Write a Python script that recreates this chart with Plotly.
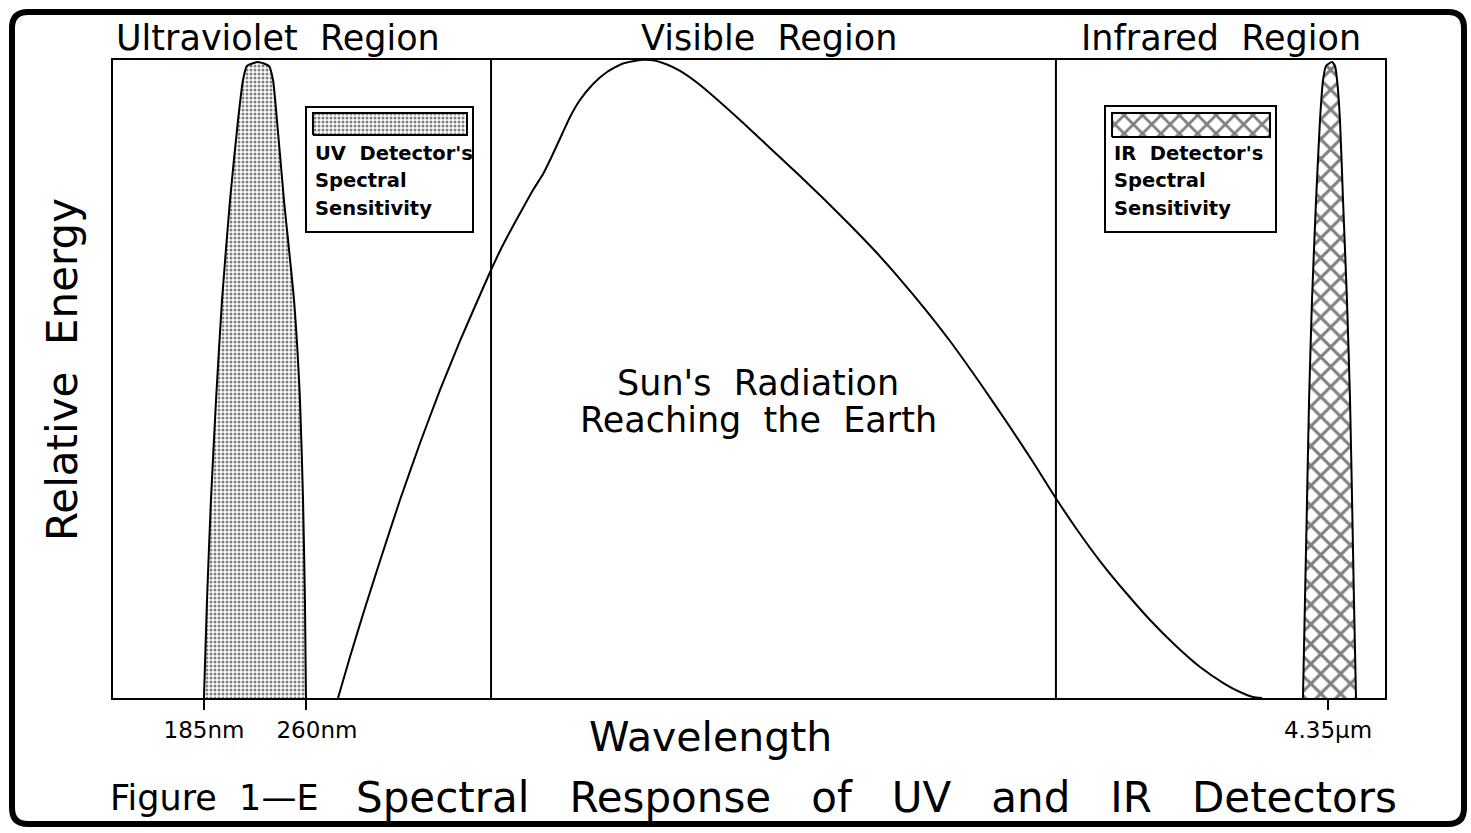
import plotly.graph_objects as go

# ---------------- data (x: relative wavelength position 0-100, y: relative energy 0-1) ----------------
sun_x = [17.69, 18.63, 19.81, 20.99, 22.56, 24.14, 25.71, 27.28, 28.85, 29.72, 30.42, 31.45, 32.23,
         33.02, 33.81, 34.36, 34.91, 35.38, 35.93, 36.71, 37.74, 38.84, 40.09, 41.43, 42.45, 43.55,
         44.58, 46.15, 49.29, 51.65, 54.01, 55.97, 57.94, 59.91, 61.87, 63.84, 65.80,
         68.16, 70.52, 72.33, 74.06, 75.86, 77.59, 79.72, 81.53, 83.49, 85.46, 87.42, 88.60, 89.62,
         90.33]
sun_y = [0.0, 0.0643, 0.1411, 0.2147, 0.3103, 0.3997, 0.4828, 0.5596, 0.6317, 0.6708, 0.7006, 0.7398,
         0.7680, 0.7962, 0.8213, 0.8433, 0.8668, 0.8871, 0.9107, 0.9373, 0.9624, 0.9812, 0.9945, 1.0,
         0.9995, 0.9929, 0.9828, 0.9608, 0.9060, 0.8621, 0.8182, 0.7806, 0.7414,
         0.7006, 0.6567, 0.6097, 0.5596, 0.4937, 0.4248, 0.3699, 0.3150, 0.2618, 0.2147, 0.1630,
         0.1223, 0.0831, 0.0486, 0.0219, 0.0094, 0.0016, 0.0]

band_y = [0.0, 0.1536, 0.3103, 0.4671, 0.6238, 0.7806, 0.906, 0.9687, 0.9906]
uv_left = [7.15, 7.39, 7.70, 8.10, 8.57, 9.20, 9.83, 10.22, 10.53]
uv_right = [15.17, 15.09, 14.94, 14.70, 14.23, 13.44, 12.89, 12.58, 12.26]
uv_peak = [11.40, 0.997]
ir_left = [93.55, 93.71, 93.87, 94.03, 94.26, 94.58, 94.89, 95.13, 95.36]
ir_right = [97.72, 97.56, 97.41, 97.25, 97.01, 96.70, 96.46, 96.23, 96.07]
ir_peak = [95.83, 0.997]

region_bounds = [29.72, 74.13]
region_names = ["Ultraviolet\u00a0 Region", "Visible\u00a0 Region", "Infrared\u00a0 Region"]
region_centers = [12.97, 51.57, 87.11]

tick_vals = [7.15, 15.17, 95.52]
tick_text = ["185nm", "\u00a0\u00a0\u00a0260nm", "4.35µm"]

uv_legend_lines = ["UV\u00a0 Detector's", "Spectral", "Sensitivity"]
ir_legend_lines = ["IR\u00a0 Detector's", "Spectral", "Sensitivity"]

# ---------------- layout geometry (pixels) ----------------
W, H = 1471, 833
PL, PR, PT, PB = 113, 1385, 60, 698
FONT = "DejaVu Sans"
SP = "\u00a0\u00a0 "


def px_x(p):
    return (p - PL) / (PR - PL)


def px_y(p):
    return (PB - p) / (PB - PT)


def band_polygon(left, right, peak):
    xs = list(left) + [peak[0]] + list(reversed(right))
    ys = list(band_y) + [peak[1]] + list(reversed(band_y))
    return xs, ys


UV_PAT = dict(shape=".", size=4, solidity=0.45, fgcolor="black", bgcolor="white")
IR_PAT = dict(shape="x", size=14, solidity=0.38, fgcolor="black", bgcolor="white")

fig = go.Figure()

# Sun's radiation curve
fig.add_trace(go.Scatter(x=sun_x, y=sun_y, mode="lines",
                         line=dict(color="black", width=2, shape="spline", smoothing=0.5),
                         hoverinfo="skip", showlegend=False))

# UV detector band (dotted fill)
ux, uy = band_polygon(uv_left, uv_right, uv_peak)
fig.add_trace(go.Scatter(x=ux, y=uy, mode="lines", fill="toself",
                         line=dict(color="black", width=2, shape="spline", smoothing=0.5),
                         fillcolor="white", fillpattern=UV_PAT,
                         hoverinfo="skip", showlegend=False))

# IR detector band (cross-hatch)
ix, iy = band_polygon(ir_left, ir_right, ir_peak)
fig.add_trace(go.Scatter(x=ix, y=iy, mode="lines", fill="toself",
                         line=dict(color="black", width=2, shape="spline", smoothing=0.5),
                         fillcolor="white", fillpattern=IR_PAT,
                         hoverinfo="skip", showlegend=False))


# Legend swatches (patterned) inside the legend boxes
def swatch(x0, x1, y0, y1, pattern):
    fig.add_trace(go.Scatter(x=[x0, x1, x1, x0, x0], y=[y0, y0, y1, y1, y0], mode="lines",
                             fill="toself", fillcolor="white", fillpattern=pattern,
                             line=dict(color="black", width=2), hoverinfo="skip", showlegend=False))


swatch(15.72, 27.83, 0.8824, 0.9169, UV_PAT)
swatch(78.54, 90.96, 0.8793, 0.9169, dict(IR_PAT, size=13))

shapes = []
# region dividers
for b in region_bounds:
    shapes.append(dict(type="line", xref="x", yref="paper", x0=b, x1=b, y0=0, y1=1,
                       line=dict(color="black", width=2)))
# legend boxes
for (x0, x1, y0, y1) in [(306, 473, 107, 232), (1105, 1276, 106, 232)]:
    shapes.append(dict(type="rect", xref="paper", yref="paper",
                       x0=px_x(x0), x1=px_x(x1), y0=px_y(y1), y1=px_y(y0),
                       line=dict(color="black", width=2), fillcolor="rgba(0,0,0,0)"))

# outer rounded frame
bx0, by0, bx1, by1, r = 12, 12, 1464, 824, 16
pts = [
    ("M", bx0 + r, by0), ("L", bx1 - r, by0), ("Q", bx1, by0, bx1, by0 + r),
    ("L", bx1, by1 - r), ("Q", bx1, by1, bx1 - r, by1),
    ("L", bx0 + r, by1), ("Q", bx0, by1, bx0, by1 - r),
    ("L", bx0, by0 + r), ("Q", bx0, by0, bx0 + r, by0),
]
path = ""
for p in pts:
    coords = p[1:]
    segs = [f"{px_x(coords[i]):.5f},{px_y(coords[i + 1]):.5f}" for i in range(0, len(coords), 2)]
    path += p[0] + " " + " ".join(segs) + " "
path += "Z"
shapes.append(dict(type="path", xref="paper", yref="paper", path=path,
                   line=dict(color="black", width=6)))

annotations = []
for name, cx in zip(region_names, region_centers):
    annotations.append(dict(text=name, x=cx, xref="x", y=px_y(38), yref="paper",
                            showarrow=False, font=dict(family=FONT, size=35, color="black"),
                            xanchor="center", yanchor="middle"))

annotations.append(dict(text="Sun's\u00a0 Radiation", x=50.71, xref="x", y=px_y(383), yref="paper",
                        showarrow=False, font=dict(family=FONT, size=35, color="black"),
                        xanchor="center", yanchor="middle"))
annotations.append(dict(text="Reaching\u00a0 the\u00a0 Earth", x=50.71, xref="x", y=px_y(420), yref="paper",
                        showarrow=False, font=dict(family=FONT, size=35, color="black"),
                        xanchor="center", yanchor="middle"))

for lines, lx in [(uv_legend_lines, px_x(313)), (ir_legend_lines, px_x(1112))]:
    for i, t in enumerate(lines):
        annotations.append(dict(text=t, x=lx, xref="paper", y=px_y(153 + 27.5 * i), yref="paper",
                                showarrow=False,
                                font=dict(family=FONT, size=19.5, color="black", weight="bold"),
                                xanchor="left", yanchor="middle"))

annotations.append(dict(text="Wavelength", x=px_x(710), xref="paper", y=px_y(737), yref="paper",
                        showarrow=False, font=dict(family=FONT, size=41, color="black"),
                        xanchor="center", yanchor="middle"))
annotations.append(dict(text="Relative\u00a0 Energy", x=px_x(62), xref="paper", y=px_y(370), yref="paper",
                        showarrow=False, textangle=-90, font=dict(family=FONT, size=42, color="black"),
                        xanchor="center", yanchor="middle"))
annotations.append(dict(text="Figure\u00a0 1—E", x=px_x(108), xref="paper", y=px_y(798), yref="paper",
                        showarrow=False, font=dict(family=FONT, size=35, color="black"),
                        xanchor="left", yanchor="middle"))
annotations.append(dict(text=SP.join(["Spectral", "Response", "of", "UV", "and", "IR", "Detectors"]),
                        x=px_x(876), xref="paper", y=px_y(797), yref="paper",
                        showarrow=False, font=dict(family=FONT, size=42, color="black"),
                        xanchor="center", yanchor="middle"))

fig.update_layout(
    width=W, height=H,
    margin=dict(l=PL, r=W - PR, t=PT, b=H - PB, pad=0),
    paper_bgcolor="white", plot_bgcolor="white",
    shapes=shapes, annotations=annotations, showlegend=False,
    xaxis=dict(range=[0, 100], showgrid=False, zeroline=False, showline=True, mirror=True,
               linecolor="black", linewidth=2, tickmode="array", tickvals=tick_vals, ticktext=tick_text,
               ticks="outside", ticklen=10, tickwidth=2, tickcolor="black",
               tickfont=dict(family=FONT, size=23, color="black"), fixedrange=True),
    yaxis=dict(range=[0, 1], showgrid=False, zeroline=False, showline=True, mirror=True,
               linecolor="black", linewidth=2, showticklabels=False, ticks="", fixedrange=True),
)

fig.write_html("out.html", config={"displayModeBar": False},
               post_script="document.body.style.margin='0';document.body.style.overflow='hidden';")
